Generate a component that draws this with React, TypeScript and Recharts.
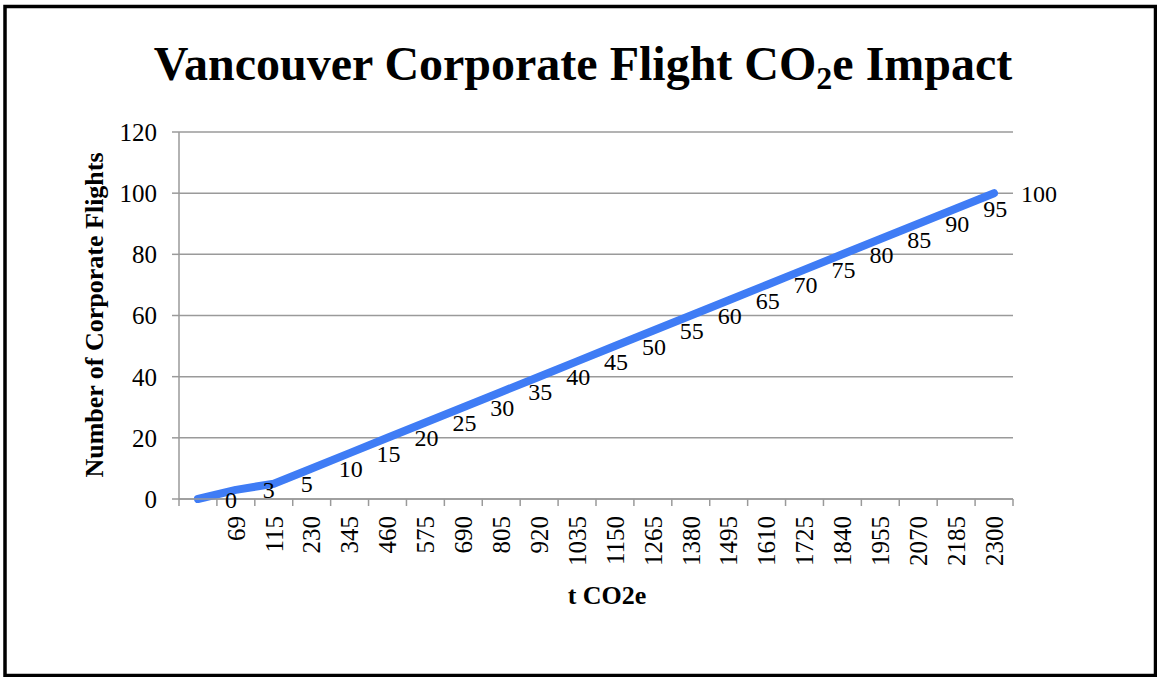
import React from "react";
import { LineChart, Line, XAxis, YAxis, CartesianGrid, LabelList, Label } from "recharts";

// Chart data
const categories = [
  "", "69", "115", "230", "345", "460", "575", "690", "805", "920", "1035",
  "1150", "1265", "1380", "1495", "1610", "1725", "1840", "1955", "2070", "2185", "2300",
];
const flights = [0, 3, 5, 10, 15, 20, 25, 30, 35, 40, 45, 50, 55, 60, 65, 70, 75, 80, 85, 90, 95, 100];
const yTicks = [0, 20, 40, 60, 80, 100, 120];

const data = categories.map((c, i) => ({ name: c, flights: flights[i] }));

const FONT = "'Liberation Serif', 'Times New Roman', serif";
const GRAY = "#9a9a9a";
const W = 1157;
const H = 677;

const XTick = (props: any) => {
  const { x, y, payload, index } = props;
  const off = payload?.offset ?? 834 / categories.length / 2;
  return (
    <g>
      <line x1={x - off} x2={x - off} y1={y} y2={y + 7} stroke={GRAY} strokeWidth={1.5} />
      {index === categories.length - 1 && (
        <line x1={x + off} x2={x + off} y1={y} y2={y + 7} stroke={GRAY} strokeWidth={1.5} />
      )}
      <text
        transform={`translate(${x},${y + 17}) rotate(-90)`}
        textAnchor="end"
        dy="0.35em"
        fontFamily={FONT}
        fontSize={25}
        fill="#000"
      >
        {payload.value}
      </text>
    </g>
  );
};

const PointLabel = (props: any) => {
  const { x, y, value } = props;
  return (
    <text x={x + 27} y={y + 3} dominantBaseline="middle" fontFamily={FONT} fontSize={24} fill="#000">
      {value}
    </text>
  );
};

export default function App() {
  return (
    <div style={{ position: "fixed", left: 0, top: 0, width: W, height: H, background: "#fff" }}>
      <LineChart width={W} height={H} data={data} margin={{ top: 132, right: 144, left: 0, bottom: 0 }}>
        <CartesianGrid vertical={false} stroke={GRAY} strokeWidth={1.5} />
        <XAxis
          dataKey="name"
          scale="band"
          height={178}
          interval={0}
          tickLine={false}
          tickSize={0}
          tickMargin={0}
          axisLine={{ stroke: GRAY, strokeWidth: 1.5 }}
          tick={<XTick />}
        >
          <Label
            content={() => (
              <text x={607} y={604} textAnchor="middle" fontFamily={FONT} fontWeight="bold" fontSize={26} fill="#000">
                t CO2e
              </text>
            )}
          />
        </XAxis>
        <YAxis
          width={179}
          domain={[0, 120]}
          ticks={yTicks}
          interval={0}
          tickSize={7}
          tickMargin={15}
          tickLine={{ stroke: GRAY, strokeWidth: 1.5 }}
          axisLine={{ stroke: GRAY, strokeWidth: 1.5 }}
          tick={{ fontFamily: FONT, fontSize: 25, fill: "#000" }}
        >
          <Label
            content={() => (
              <text
                transform="translate(94,315) rotate(-90)"
                textAnchor="middle"
                dy="0.35em"
                fontFamily={FONT}
                fontWeight="bold"
                fontSize={26}
                fill="#000"
              >
                Number of Corporate Flights
              </text>
            )}
          />
        </YAxis>
        <Line
          type="linear"
          dataKey="flights"
          stroke="#3f7cf5"
          strokeWidth={8}
          strokeLinecap="round"
          strokeLinejoin="round"
          dot={false}
          activeDot={false}
          isAnimationActive={false}
        >
          <LabelList dataKey="flights" content={<PointLabel />} />
        </Line>
      </LineChart>
      <svg width={W} height={H} style={{ position: "absolute", left: 0, top: 0, pointerEvents: "none" }}>
        <rect x={5} y={6.5} width={1150.5} height={669} fill="none" stroke="#000" strokeWidth={3.5} />
        <text x={583} y={80} textAnchor="middle" fontFamily={FONT} fontWeight="bold" fontSize={48} fill="#000">
          Vancouver Corporate Flight CO
          <tspan dy={9} fontSize={32}>2</tspan>
          <tspan dy={-9}>e Impact</tspan>
        </text>
      </svg>
    </div>
  );
}
